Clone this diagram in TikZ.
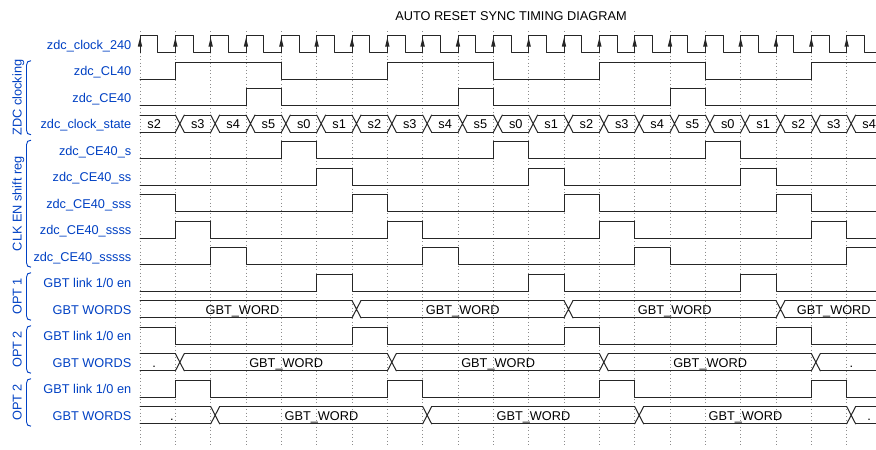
\documentclass[tikz,border=0pt]{standalone}
\usepackage{fontspec}
\setmainfont{Liberation Sans}
\definecolor{wdblue}{HTML}{0041C4}
\tikzset{
  sig/.style={line width=1pt, draw=black!85, line cap=round, line join=round},
  gridl/.style={draw=black!45, line width=0.7pt, dash pattern=on 1pt off 2.5pt},
  lbl/.style={text=wdblue, font=\fontsize{12.75}{14}\selectfont, inner sep=0pt, anchor=base east},
  grplbl/.style={text=wdblue, font=\fontsize{12.75}{14}\selectfont, inner sep=0pt, anchor=base, rotate=90},
  grpbr/.style={draw=wdblue, line width=0.9pt},
  val/.style={text=black, font=\fontsize{12.75}{14}\selectfont, inner sep=0pt, anchor=base},
  ttl/.style={text=black, font=\fontsize{12.75}{14}\selectfont, inner sep=0pt, anchor=base},
}
% digital wave: row, levels
\newcommand\wave[2]{%
  \pgfmathsetmacro\yc{44.2+26.5*#1}%
  \foreach \v [count=\k from 0, remember=\v as \lv (initially 9)] in {#2} {%
    \pgfmathsetmacro\xa{140+35.333*\k}%
    \pgfmathsetmacro\xb{\xa+35.333}%
    \pgfmathsetmacro\yy{\yc+8.7-17.4*\v}%
    \ifnum\lv=9 \draw[sig] (\xa,\yy) -- (\xb,\yy);%
    \else\ifnum\lv=\v \draw[sig] (\xa,\yy) -- (\xb,\yy);%
    \else\pgfmathsetmacro\yo{\yc+8.7-17.4*\lv}\draw[sig] (\xa,\yo) -- (\xa,\yy) -- (\xb,\yy);\fi\fi
  }}
% bus transition: row, period index
\newcommand\xtr[2]{%
  \pgfmathsetmacro\ya{44.2+26.5*#1-8.7}\pgfmathsetmacro\yb{\ya+17.4}%
  \pgfmathsetmacro\xa{140+35.333*#2}\pgfmathsetmacro\xc{\xa+9}%
  \draw[sig] (\xa,\ya) -- (\xc,\yb) (\xa,\yb) -- (\xc,\ya);}
% bus segment: row, start, end, text
\newcommand\seg[4]{%
  \pgfmathsetmacro\ya{44.2+26.5*#1-8.7}\pgfmathsetmacro\yb{\ya+17.4}%
  \pgfmathsetmacro\xs{140+35.333*#2}\pgfmathsetmacro\xe{140+35.333*#3}%
  \ifnum#2=0 \pgfmathsetmacro\xt{(\xs+\xe)/2-3.5}\let\xl\xs
  \else\xtr{#1}{#2}\pgfmathsetmacro\xl{\xs+9}\pgfmathsetmacro\xt{(\xs+\xe)/2+4.8}\fi
  \draw[sig] (\xl,\ya) -- (\xe,\ya) (\xl,\yb) -- (\xe,\yb);
  \node[val] at (\xt,\yb-3.5) {#4};}
% group: name, first row, last row, text
\newcommand\grp[4]{%
  \pgfmathsetmacro\gt{44.2+26.5*#2-10}\pgfmathsetmacro\gb{44.2+26.5*#3+11}%
  \draw[grpbr] (31,\gt) .. controls (28,\gt) and (26.5,\gt+1.5) .. (26.5,\gt+4.5) -- (26.5,\gb-4.5) .. controls (26.5,\gb-1.5) and (28,\gb) .. (31,\gb);
  \pgfmathsetmacro\gc{(\gt+\gb)/2}%
  \node[grplbl] (#1) at (21.5,\gc) {#4};}
\begin{document}
\begin{tikzpicture}[x=1pt,y=-1pt]
\fill[white] (0,0) rectangle (876,450);
\useasboundingbox (0,0) rectangle (876,450);
\clip (0,0) rectangle (876,450);
% grid
\foreach \k in {0,...,21} { \draw[gridl] ({140+35.333*\k},31) -- ({140+35.333*\k},447); }
% title
\node[ttl] (title) at (511,20) {AUTO RESET SYNC TIMING DIAGRAM};
% labels
\foreach \t [count=\i from 0] in {zdc\_clock\_240,zdc\_CL40,zdc\_CE40,zdc\_clock\_state,zdc\_CE40\_s,zdc\_CE40\_ss,zdc\_CE40\_sss,zdc\_CE40\_ssss,zdc\_CE40\_sssss,GBT link 1/0 en,GBT WORDS,GBT link 1/0 en,GBT WORDS,GBT link 1/0 en,GBT WORDS} {
  \node[lbl] (l\i) at (131.5,{44.2+26.5*\i+5.2}) {\t};
}
% groups
\grp{g1}{1}{3}{ZDC clocking}
\grp{g2}{4}{8}{CLK EN shift reg}
\grp{g3}{9}{10}{OPT 1}
\grp{g4}{11}{12}{OPT 2}
\grp{g5}{13}{14}{OPT 2}
% clock
\foreach \k in {0,...,20} {
  \pgfmathsetmacro\xa{140+35.333*\k}
  \pgfmathsetmacro\xm{\xa+17.667}
  \pgfmathsetmacro\xb{\xa+35.333}
  \draw[sig] (\xa,52.9) -- (\xa,35.5) -- (\xm,35.5) -- (\xm,52.9) -- (\xb,52.9);
  \fill[black!85] (\xa,37.8) -- (\xa-2.2,46.5) -- (\xa+2.2,46.5) -- cycle;
}
\wave{1}{0,1,1,1,0,0,0,1,1,1,0,0,0,1,1,1,0,0,0,1,1}
\wave{2}{0,0,0,1,0,0,0,0,0,1,0,0,0,0,0,1,0,0,0,0,0}
% clock state bus
\foreach \s [count=\k from 0] in {s2,s3,s4,s5,s0,s1,s2,s3,s4,s5,s0,s1,s2,s3,s4,s5,s0,s1,s2,s3,s4} {
  \pgfmathtruncatemacro\kn{\k+1}
  \seg{3}{\k}{\kn}{\s}
}
\wave{4}{0,0,0,0,1,0,0,0,0,0,1,0,0,0,0,0,1,0,0,0,0}
\wave{5}{0,0,0,0,0,1,0,0,0,0,0,1,0,0,0,0,0,1,0,0,0}
\wave{6}{1,0,0,0,0,0,1,0,0,0,0,0,1,0,0,0,0,0,1,0,0}
\wave{7}{0,1,0,0,0,0,0,1,0,0,0,0,0,1,0,0,0,0,0,1,0}
\wave{8}{0,0,1,0,0,0,0,0,1,0,0,0,0,0,1,0,0,0,0,0,1}
% OPT 1
\wave{9}{0,0,0,0,0,1,0,0,0,0,0,1,0,0,0,0,0,1,0,0,0}
\seg{10}{0}{6}{GBT\_WORD}
\seg{10}{6}{12}{GBT\_WORD}
\seg{10}{12}{18}{GBT\_WORD}
\seg{10}{18}{21}{GBT\_WORD}
% OPT 2
\wave{11}{1,0,0,0,0,0,1,0,0,0,0,0,1,0,0,0,0,0,1,0,0}
\seg{12}{0}{1}{.}
\seg{12}{1}{7}{GBT\_WORD}
\seg{12}{7}{13}{GBT\_WORD}
\seg{12}{13}{19}{GBT\_WORD}
\seg{12}{19}{21}{.}
% OPT 2 (second)
\wave{13}{0,1,0,0,0,0,0,1,0,0,0,0,0,1,0,0,0,0,0,1,0}
\seg{14}{0}{2}{.}
\seg{14}{2}{8}{GBT\_WORD}
\seg{14}{8}{14}{GBT\_WORD}
\seg{14}{14}{20}{GBT\_WORD}
\seg{14}{20}{21}{.}
\end{tikzpicture}
\end{document}
